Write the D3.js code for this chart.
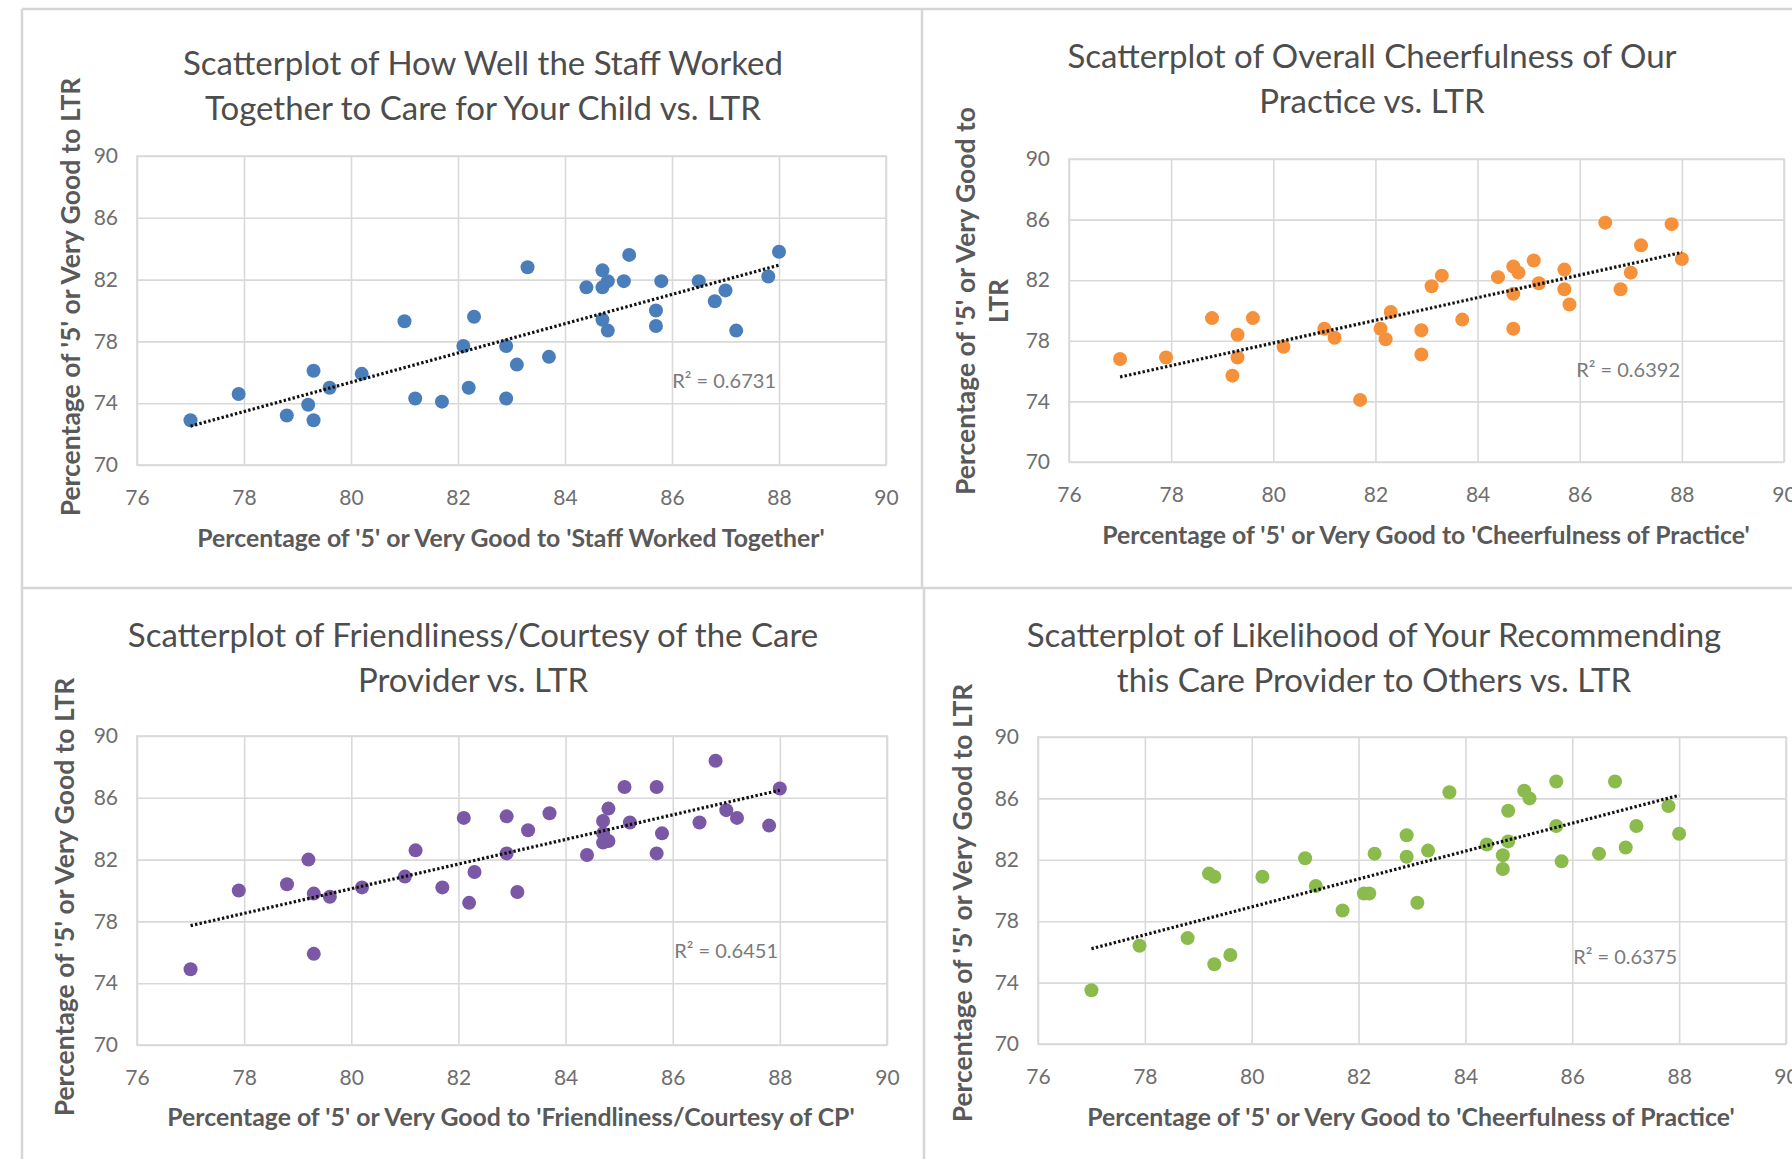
<!DOCTYPE html>
<html>
<head>
<meta charset="utf-8">
<script src="https://cdn.jsdelivr.net/npm/d3@7"></script>
<style>
  body { margin: 0; background: #fff; }
  svg { display: block; }
  text { font-family: Lato, "Open Sans", sans-serif; }
</style>
</head>
<body>
<div class="container"></div>
<script>
// values: [attribute %, LTR %]
const staffPoints = [
  [77.0,72.9],[77.9,74.6],[78.8,73.2],[79.2,73.9],[79.3,76.1],[79.3,72.9],[79.6,75.0],[80.2,75.9],
  [81.0,79.3],[81.2,74.3],[81.7,74.1],[82.1,77.7],[82.2,75.0],[82.3,79.6],[82.9,77.7],[82.9,74.3],
  [83.1,76.5],[83.3,82.8],[83.7,77.0],[84.4,81.5],[84.7,82.6],[84.7,81.5],[84.8,81.9],[84.7,79.4],
  [84.8,78.7],[85.1,81.9],[85.2,83.6],[85.7,80.0],[85.7,79.0],[85.8,81.9],[86.5,81.9],[86.8,80.6],
  [87.0,81.3],[87.2,78.7],[87.8,82.2],[88.0,83.8]
];
const cheerPoints = [
  [77.0,76.8],[77.9,76.9],[78.8,79.5],[79.3,78.4],[79.3,76.9],[79.2,75.7],[79.6,79.5],[80.2,77.6],
  [81.0,78.8],[81.2,78.2],[81.7,74.1],[82.1,78.8],[82.2,78.1],[82.3,79.9],[82.9,78.7],[82.9,77.1],
  [83.1,81.6],[83.3,82.3],[83.7,79.4],[84.4,82.2],[84.7,82.9],[84.8,82.5],[84.7,81.1],[84.7,78.8],
  [85.1,83.3],[85.2,81.8],[85.7,82.7],[85.7,81.4],[85.8,80.4],[86.5,85.8],[86.8,81.4],[87.0,82.5],
  [87.2,84.3],[87.8,85.7],[88.0,83.4]
];
const friendPoints = [
  [77.0,74.9],[77.9,80.0],[78.8,80.4],[79.2,82.0],[79.3,79.8],[79.3,75.9],[79.6,79.6],[80.2,80.2],
  [81.0,80.9],[81.2,82.6],[81.7,80.2],[82.1,84.7],[82.3,81.2],[82.2,79.2],[82.9,84.8],[82.9,82.4],
  [83.1,79.9],[83.3,83.9],[83.7,85.0],[84.4,82.3],[84.7,84.5],[84.8,85.3],[84.7,83.7],[84.7,83.1],
  [84.8,83.2],[85.1,86.7],[85.2,84.4],[85.7,86.7],[85.8,83.7],[85.7,82.4],[86.5,84.4],[86.8,88.4],
  [87.0,85.2],[87.2,84.7],[87.8,84.2],[88.0,86.6]
];
const recommendPoints = [
  [77.0,73.5],[77.9,76.4],[78.8,76.9],[79.2,81.1],[79.3,80.9],[79.3,75.2],[79.6,75.8],[80.2,80.9],
  [81.0,82.1],[81.2,80.3],[81.7,78.7],[82.1,79.8],[82.2,79.8],[82.3,82.4],[82.9,83.6],[82.9,82.2],
  [83.1,79.2],[83.3,82.6],[83.7,86.4],[84.4,83.0],[84.7,81.4],[84.7,82.3],[84.8,83.2],[84.8,85.2],
  [85.1,86.5],[85.2,86.0],[85.7,87.1],[85.7,84.2],[85.8,81.9],[86.5,82.4],[86.8,87.1],[87.0,82.8],
  [87.2,84.2],[87.8,85.5],[88.0,83.7]
];

const xTicks = [76, 78, 80, 82, 84, 86, 88, 90];
const yTicks = [70, 74, 78, 82, 86, 90];

const titles = [
  ["Scatterplot of How Well the Staff Worked", "Together to Care for Your Child vs. LTR"],
  ["Scatterplot of Overall Cheerfulness of Our", "Practice  vs. LTR"],
  ["Scatterplot of Friendliness/Courtesy of the Care", "Provider vs. LTR"],
  ["Scatterplot of Likelihood of Your Recommending", "this Care Provider to Others vs. LTR"]
];
const xTitles = [
  "Percentage of '5' or Very Good to 'Staff Worked Together'",
  "Percentage of '5' or Very Good to 'Cheerfulness of Practice'",
  "Percentage of '5' or Very Good to 'Friendliness/Courtesy of CP'",
  "Percentage of '5' or Very Good to 'Cheerfulness of Practice'"
];
const yTitles = [
  ["Percentage of '5' or Very Good to LTR"],
  ["Percentage of '5' or Very Good to", "LTR"],
  ["Percentage of '5' or Very Good to LTR"],
  ["Percentage of '5' or Very Good to LTR"]
];
const rSquared = ["0.6731", "0.6392", "0.6451", "0.6375"];
const colors = ["#4a7ebb", "#f5913a", "#7b58a6", "#8bbb4c"];

const width = 1792, height = 1159;

// where each panel sits on the page
const layout = [
  {x0: 137, x1: 886, y0: 156, y1: 465, titleX: 483, titleY: 63, xtX: 511, xtY: 538, ytX: 71, ytY: 297, rX: 776, rY: 381},
  {x0: 1069, x1: 1784, y0: 159, y1: 462, titleX: 1372, titleY: 56, xtX: 1426, xtY: 535, ytX: 966, ytY: 301, rX: 1680, rY: 370},
  {x0: 137, x1: 887, y0: 736, y1: 1045, titleX: 473, titleY: 635, xtX: 511, xtY: 1117, ytX: 65, ytY: 897, rX: 778, rY: 951},
  {x0: 1038, x1: 1786, y0: 737, y1: 1044, titleX: 1374, titleY: 635, xtX: 1411, xtY: 1117, ytX: 963, ytY: 903, rX: 1677, rY: 957}
];

const panels = [staffPoints, cheerPoints, friendPoints, recommendPoints];

const svg = d3.select(".container")
  .append("svg")
  .attr("width", width)
  .attr("height", height);

// panel frame lines
const frameColor = "#d6d6d6";
const frame = svg.append("g")
  .attr("stroke", frameColor)
  .attr("stroke-width", 2.5);
frame.append("line").attr("x1", 22).attr("x2", width).attr("y1", 9).attr("y2", 9);
frame.append("line").attr("x1", 22).attr("x2", 22).attr("y1", 9).attr("y2", height);
frame.append("line").attr("x1", 922).attr("x2", 922).attr("y1", 9).attr("y2", 588);
frame.append("line").attr("x1", 924).attr("x2", 924).attr("y1", 588).attr("y2", height);
frame.append("line").attr("x1", 22).attr("x2", width).attr("y1", 588).attr("y2", 588);

function fit(points) {
  const mx = d3.mean(points, d => d[0]);
  const my = d3.mean(points, d => d[1]);
  const sxy = d3.sum(points, d => (d[0] - mx) * (d[1] - my));
  const sxx = d3.sum(points, d => (d[0] - mx) ** 2);
  const slope = sxy / sxx;
  return x => my + slope * (x - mx);
}

panels.forEach((data, i) => {
  const L = layout[i];
  const g = svg.append("g");

  const x_scale = d3.scaleLinear().domain([76, 90]).range([L.x0, L.x1]);
  const y_scale = d3.scaleLinear().domain([70, 90]).range([L.y1, L.y0]);

  // gridlines + tick labels
  g.append("g")
    .attr("transform", `translate(0,${L.y1})`)
    .call(d3.axisBottom(x_scale).tickValues(xTicks).tickSize(-(L.y1 - L.y0)).tickPadding(25))
    .call(a => a.select(".domain").remove())
    .call(a => a.selectAll(".tick line").attr("stroke", "#d9d9d9").attr("stroke-width", 1.6))
    .call(a => a.selectAll(".tick text").attr("fill", "#6e6e6e").attr("font-size", 21)
      .attr("font-family", "Lato, sans-serif"));

  g.append("g")
    .attr("transform", `translate(${L.x0},0)`)
    .call(d3.axisLeft(y_scale).tickValues(yTicks).tickSize(-(L.x1 - L.x0)).tickPadding(19))
    .call(a => a.select(".domain").remove())
    .call(a => a.selectAll(".tick line").attr("stroke", "#d9d9d9").attr("stroke-width", 1.6))
    .call(a => a.selectAll(".tick text").attr("fill", "#6e6e6e").attr("font-size", 21)
      .attr("font-family", "Lato, sans-serif"));

  g.append("rect")
    .attr("x", L.x0).attr("y", L.y0)
    .attr("width", L.x1 - L.x0).attr("height", L.y1 - L.y0)
    .attr("fill", "none")
    .attr("stroke", "#d9d9d9")
    .attr("stroke-width", 1.6);

  // points
  g.append("g")
    .selectAll("circle")
    .data(data)
    .join("circle")
    .attr("cx", d => x_scale(d[0]))
    .attr("cy", d => y_scale(d[1]))
    .attr("r", 7)
    .attr("fill", colors[i]);

  // linear trendline
  const f = fit(data);
  const ext = d3.extent(data, d => d[0]);
  g.append("line")
    .attr("x1", x_scale(ext[0])).attr("y1", y_scale(f(ext[0])))
    .attr("x2", x_scale(ext[1])).attr("y2", y_scale(f(ext[1])))
    .attr("stroke", "#111")
    .attr("stroke-width", 3.2)
    .attr("stroke-dasharray", "2.4,2.2");

  // r squared
  g.append("text")
    .attr("x", L.rX).attr("y", L.rY)
    .attr("dy", "0.35em")
    .attr("text-anchor", "end")
    .attr("fill", "#7a7a7a")
    .attr("font-size", 20)
    .text(`R² = ${rSquared[i]}`);

  // title
  g.append("g")
    .selectAll("text")
    .data(titles[i])
    .join("text")
    .attr("x", L.titleX)
    .attr("y", (d, j) => L.titleY + j * 45.5)
    .attr("dy", "0.35em")
    .attr("text-anchor", "middle")
    .attr("fill", "#4d4d4d")
    .attr("font-size", 33)
    .text(d => d);

  // x axis title
  g.append("text")
    .attr("x", L.xtX).attr("y", L.xtY)
    .attr("dy", "0.35em")
    .attr("text-anchor", "middle")
    .attr("fill", "#595959")
    .attr("font-weight", "bold")
    .attr("font-size", 24.8)
    .text(xTitles[i]);

  // y axis title
  g.append("g")
    .selectAll("text")
    .data(yTitles[i])
    .join("text")
    .attr("transform", (d, j) => `translate(${L.ytX + j * 33},${L.ytY}) rotate(-90)`)
    .attr("dy", "0.35em")
    .attr("text-anchor", "middle")
    .attr("fill", "#595959")
    .attr("font-weight", "bold")
    .attr("font-size", 26.5)
    .text(d => d);
});
</script>
</body>
</html>
